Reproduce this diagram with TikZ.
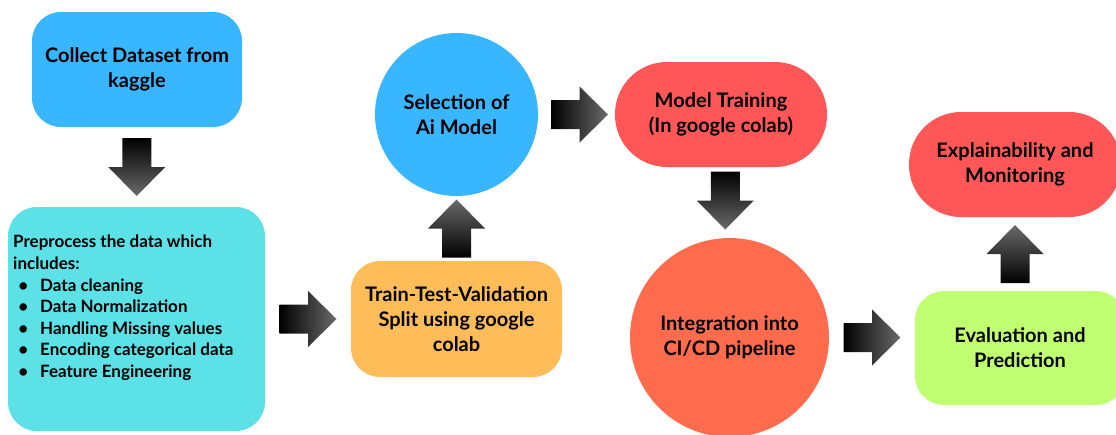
\documentclass[tikz,border=0pt]{standalone}
\usepackage{fontspec}
\setmainfont{Lato}
\usetikzlibrary{calc}
\definecolor{cblue}{HTML}{38B6FF}
\definecolor{ccyan}{HTML}{5CE1E6}
\definecolor{corange}{HTML}{FFBD59}
\definecolor{cred}{HTML}{FF5757}
\definecolor{cored}{HTML}{FF6B4D}
\definecolor{cgreen}{HTML}{C1FF72}
\definecolor{arrgray}{HTML}{6A6A6A}
\newcommand\arrdown[1]{\shade[shift={(#1)},top color=black,bottom color=arrgray]
  (-14.5,-29) -- (14.5,-29) -- (14.5,0) -- (28.5,0) -- (0,29) -- (-28.5,0) -- (-14.5,0) -- cycle;}
\newcommand\arrup[1]{\shade[shift={(#1)},bottom color=black,top color=arrgray]
  (-14.5,29) -- (14.5,29) -- (14.5,0) -- (28.5,0) -- (0,-29) -- (-28.5,0) -- (-14.5,0) -- cycle;}
\newcommand\arrright[1]{\shade[shift={(#1)},left color=black,right color=arrgray]
  (-28.5,-14.5) -- (0,-14.5) -- (0,-28) -- (28.5,0) -- (0,28) -- (0,14.5) -- (-28.5,14.5) -- cycle;}
\begin{document}
\begin{tikzpicture}[x=1pt,y=-1pt,
  lbl/.style={align=center, inner sep=0pt, font=\fontsize{20}{25}\selectfont\bfseries},
  rbox/.style={lbl, rounded corners=29pt},
  pill/.style={lbl, rounded corners=52pt, minimum width=212pt, minimum height=105pt},
  disc/.style={lbl, circle}]
\useasboundingbox (0,0) rectangle (1116,434);
\clip (0,0) rectangle (1116,434);

\node[rbox, fill=cblue, minimum width=210pt, minimum height=115pt] (collect) at (137,69.5) {Collect Dataset from\\kaggle};
\node[rbox, fill=ccyan, minimum width=257pt, minimum height=224pt] (prep) at (136.5,319) {};
\node[anchor=north west, inner sep=0pt, align=left, font=\fontsize{17}{21.6}\selectfont\bfseries] (preptext) at (13,235)
  {Preprocess the data which\\includes:\\
   \makebox[20pt]{•}\hspace{7pt}Data cleaning\\
   \makebox[20pt]{•}\hspace{7pt}Data Normalization\\
   \makebox[20pt]{•}\hspace{7pt}Handling Missing values\\
   \makebox[20pt]{•}\hspace{7pt}Encoding categorical data\\
   \makebox[20pt]{•}\hspace{7pt}Feature Engineering};
\node[rbox, fill=corange, minimum width=211pt, minimum height=116pt] (split) at (456.5,319) {Train-Test-Validation\\Split using google\\colab};
\node[disc, fill=cblue, minimum size=163pt] (select) at (456.5,114.5) {Selection of\\Ai Model};
\node[pill, fill=cred] (train) at (721,114.5) {Model Training\\(In google colab)};
\node[disc, fill=cored, minimum size=199pt] (integ) at (729.5,337.5) {Integration into\\CI/CD pipeline};
\node[rbox, fill=cgreen, minimum width=210pt, minimum height=114pt] (eval) at (1020,348) {Evaluation and\\Prediction};
\node[pill, fill=cred] (explain) at (1015,164.5) {Explainability and\\Monitoring};

\coordinate (a1) at ($(collect.south)!0.5!(prep.north)$);
\coordinate (a2) at ($(prep.east)!0.5!(split.west)$);
\coordinate (a3) at ($(split.north)!0.5!(select.south)$);
\coordinate (a4m) at ($(select.east)!0.5!(train.west)$);
\coordinate (a4) at ($(a4m)+(3,0)$);
\coordinate (a5m) at ($(train.south)!0.5!(integ.north)$);
\coordinate (a5) at ($(a5m)+(0,-2)$);
\coordinate (a6m) at ($(integ.east)!0.5!(eval.west)$);
\coordinate (a6) at (a6m |- integ.east);
\coordinate (a7m) at ($(eval.north)!0.5!(explain.south)$);
\coordinate (a7) at (explain.south |- a7m);

\arrdown{a1}
\arrright{a2}
\arrup{a3}
\arrright{a4}
\arrdown{a5}
\arrright{a6}
\arrup{a7}
\end{tikzpicture}
\end{document}
